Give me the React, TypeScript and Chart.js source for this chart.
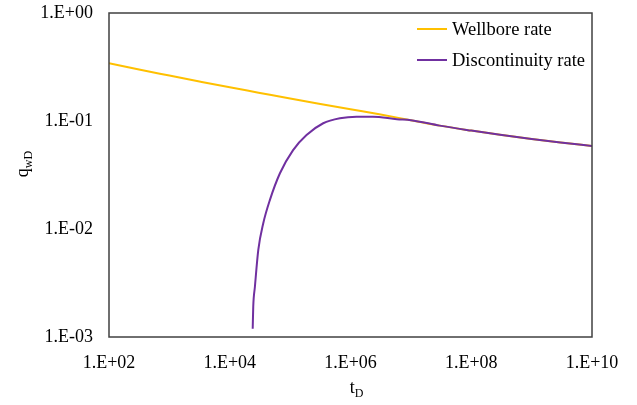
import React, { useEffect, useRef } from "react";
import { Chart, registerables } from "chart.js";

Chart.register(...registerables);

const wellboreT = [1e2, 3e2, 1e3, 3e3, 1e4, 3e4, 1e5, 3e5, 1e6, 3e6, 1e7, 3e7, 1e8, 3e8, 1e9, 3e9, 1e10];
const wellboreQ = [0.342, 0.301, 0.2635, 0.2335, 0.205, 0.183, 0.1614, 0.1445, 0.1283, 0.1155, 0.1017, 0.0906, 0.0815, 0.0745, 0.0681, 0.0632, 0.0588];

const discT = [2.4e4, 2.45e4, 2.61e4, 2.97e4, 3.59e4, 4.63e4, 6.78e4, 1.12e5, 1.87e5, 3.53e5, 6.67e5, 1.26e6, 2.35e6, 5.86e6, 1e7, 3e7, 1e8, 3e8, 1e9, 3e9, 1e10];
const discQ = [0.00119, 0.00191, 0.00292, 0.0064, 0.0113, 0.0186, 0.0328, 0.0538, 0.0741, 0.0953, 0.106, 0.1096, 0.1096, 0.1038, 0.1017, 0.0906, 0.0815, 0.0745, 0.0681, 0.0632, 0.0588];

const xTickValues = [1e2, 1e4, 1e6, 1e8, 1e10];
const xTickLabels = ["1.E+02", "1.E+04", "1.E+06", "1.E+08", "1.E+10"];
const yTickValues = [1e-3, 1e-2, 1e-1, 1e0];
const yTickLabels = ["1.E-03", "1.E-02", "1.E-01", "1.E+00"];

const seriesNames = ["Wellbore rate", "Discontinuity rate"];
const seriesColors = ["#FFC000", "#7030A0"];

const FONT = "'Liberation Serif', 'Times New Roman', serif";

function labelFor(values: number[], labels: string[], v: number) {
  for (let i = 0; i < values.length; i++) {
    if (Math.abs(Math.log10(values[i]) - Math.log10(v)) < 1e-6) return labels[i];
  }
  return "";
}

const decorPlugin = {
  id: "decor",
  afterDraw(chart: any) {
    const { ctx, chartArea } = chart;
    const { left, right, top, bottom } = chartArea;
    ctx.save();
    // frame
    ctx.strokeStyle = "#404040";
    ctx.lineWidth = 1.5;
    ctx.strokeRect(left, top, right - left, bottom - top);

    // legend
    ctx.font = `18.5px ${FONT}`;
    ctx.textBaseline = "middle";
    ctx.textAlign = "left";
    const rows = [top + 16, top + 47];
    seriesNames.forEach((name, i) => {
      ctx.strokeStyle = seriesColors[i];
      ctx.lineWidth = 2;
      ctx.beginPath();
      ctx.moveTo(right - 175, rows[i]);
      ctx.lineTo(right - 145, rows[i]);
      ctx.stroke();
      ctx.fillStyle = "#000";
      ctx.fillText(name, right - 140, rows[i] + 1);
    });

    // x title t_D
    ctx.textBaseline = "alphabetic";
    ctx.fillStyle = "#000";
    ctx.font = `18px ${FONT}`;
    const tW = ctx.measureText("t").width;
    ctx.font = `12px ${FONT}`;
    const dW = ctx.measureText("D").width;
    const xc = (left + right) / 2 + 6;
    const xs = xc - (tW + dW) / 2;
    ctx.font = `18px ${FONT}`;
    ctx.fillText("t", xs, 393);
    ctx.font = `12px ${FONT}`;
    ctx.fillText("D", xs + tW, 397);

    // y title q_wD
    ctx.font = `18px ${FONT}`;
    const qW = ctx.measureText("q").width;
    ctx.font = `12px ${FONT}`;
    const wdW = ctx.measureText("wD").width;
    const yc = 164;
    ctx.translate(28, yc + (qW + wdW) / 2);
    ctx.rotate(-Math.PI / 2);
    ctx.font = `18px ${FONT}`;
    ctx.fillText("q", 0, 0);
    ctx.font = `12px ${FONT}`;
    ctx.fillText("wD", qW, 4);
    ctx.restore();
  },
};

export default function App() {
  const ref = useRef<HTMLCanvasElement | null>(null);

  useEffect(() => {
    document.body.style.margin = "0";
    const canvas = ref.current;
    if (!canvas) return;
    const chart = new Chart(canvas, {
      type: "line",
      data: {
        datasets: [
          {
            label: seriesNames[0],
            data: wellboreT.map((t, i) => ({ x: t, y: wellboreQ[i] })),
            borderColor: seriesColors[0],
            backgroundColor: seriesColors[0],
            borderWidth: 2,
            pointRadius: 0,
            cubicInterpolationMode: "monotone",
            order: 2,
          },
          {
            label: seriesNames[1],
            data: discT.map((t, i) => ({ x: t, y: discQ[i] })),
            borderColor: seriesColors[1],
            backgroundColor: seriesColors[1],
            borderWidth: 2,
            pointRadius: 0,
            cubicInterpolationMode: "monotone",
            order: 1,
          },
        ],
      },
      options: {
        animation: false,
        responsive: false,
        devicePixelRatio: 1,
        layout: { padding: { left: 0, top: 13, right: 45, bottom: 0 } },
        plugins: { legend: { display: false }, tooltip: { enabled: false } },
        scales: {
          x: {
            type: "logarithmic",
            min: 1e2,
            max: 1e10,
            grid: { display: false, drawTicks: false },
            border: { display: false },
            ticks: {
              color: "#000",
              font: { family: FONT, size: 18 },
              padding: 15,
              maxRotation: 0,
              autoSkip: false,
              callback: (v: any) => labelFor(xTickValues, xTickLabels, Number(v)),
            },
            afterBuildTicks: (s: any) => {
              s.ticks = xTickValues.map((v) => ({ value: v }));
            },
            afterFit: (s: any) => {
              s.height = 68;
              s.paddingLeft = 0;
              s.paddingRight = 0;
            },
          },
          y: {
            type: "logarithmic",
            min: 1e-3,
            max: 1e0,
            grid: { display: false, drawTicks: false },
            border: { display: false },
            ticks: {
              color: "#000",
              font: { family: FONT, size: 18 },
              padding: 16,
              autoSkip: false,
              callback: (v: any) => labelFor(yTickValues, yTickLabels, Number(v)),
            },
            afterBuildTicks: (s: any) => {
              s.ticks = yTickValues.map((v) => ({ value: v }));
            },
            afterFit: (s: any) => {
              s.width = 109;
              s.paddingTop = 0;
              s.paddingBottom = 0;
            },
          },
        },
      },
      plugins: [decorPlugin],
    } as any);
    return () => chart.destroy();
  }, []);

  return (
    <div style={{ width: 637, height: 405, position: "relative", background: "#fff" }}>
      <canvas ref={ref} width={637} height={405} style={{ display: "block" }} />
    </div>
  );
}
